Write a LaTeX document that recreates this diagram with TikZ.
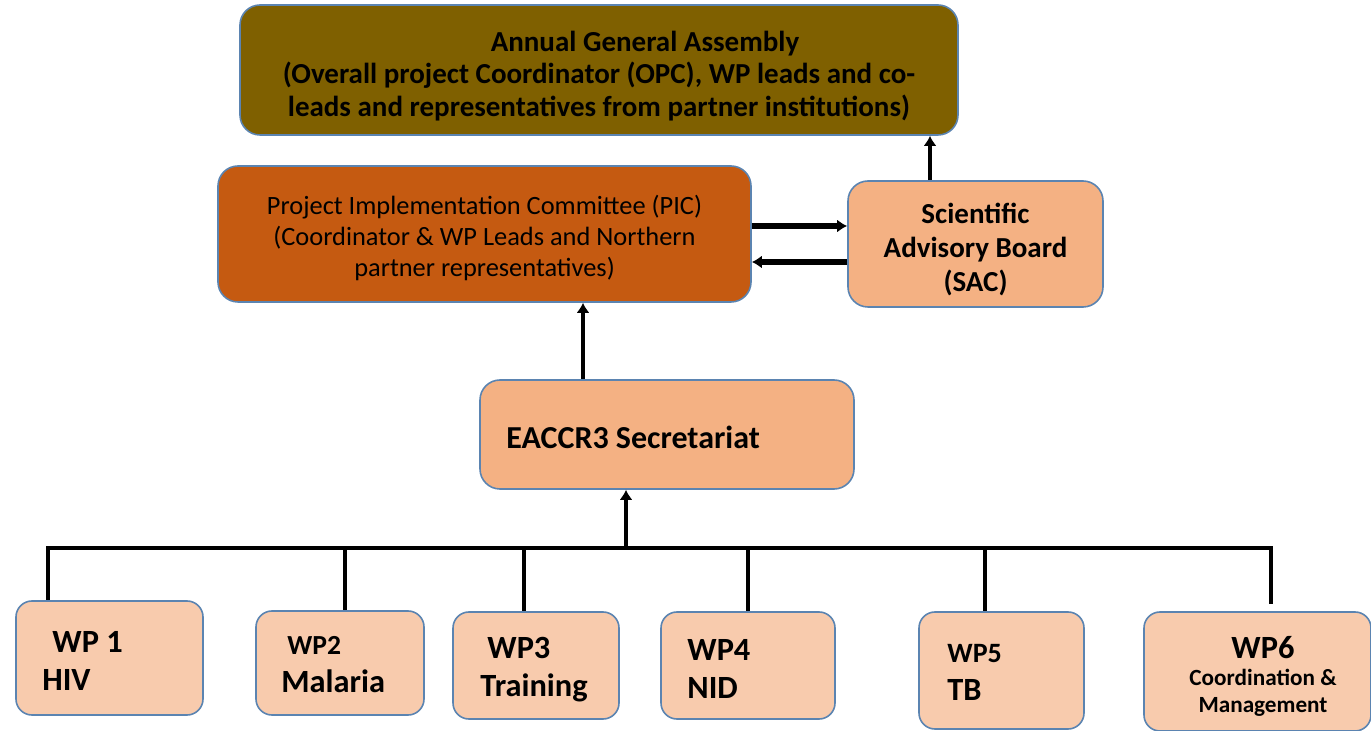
\documentclass[tikz,border=0pt]{standalone}
\usepackage{fontspec}
\setmainfont{Carlito}
\usetikzlibrary{arrows.meta,calc,positioning}

\definecolor{olivebox}{HTML}{7F6000}
\definecolor{rustbox}{HTML}{C55A11}
\definecolor{peachbox}{HTML}{F4B183}
\definecolor{lightpeach}{HTML}{F8CBAD}
\definecolor{edgeblue}{HTML}{5B84B1}

\tikzset{
  orgbox/.style={draw=edgeblue, line width=0.8pt, rounded corners=10pt, inner sep=0pt},
  wpbox/.style={orgbox, fill=lightpeach, rounded corners=8pt},
  wptext/.style={anchor=west, align=left, inner sep=0pt, font=\bfseries\fontsize{16.2}{19}\selectfont},
  arr/.style={line width=2.6pt, -{Latex[length=5pt,width=6.5pt]}},
  busline/.style={line width=1.8pt}
}

\begin{document}
\begin{tikzpicture}[x=0.5pt, y=-0.5pt]
    \useasboundingbox (0,0) rectangle (1371,731);

    % top level
    \node (aga) [orgbox, fill=olivebox, minimum width=359pt, minimum height=65pt] at (599,70) {};
    \node (agatxt) [align=center, inner sep=0pt, font=\bfseries\fontsize{14.5}{16.2}\selectfont] at (599,76)
        {\hspace*{46pt}Annual General Assembly\\(Overall project Coordinator (OPC), WP leads and co-\\leads and representatives from partner institutions)};

    \node (pic) [orgbox, fill=rustbox, minimum width=266.5pt, minimum height=68pt] at (484.5,234) {};
    \node (pictxt) [align=center, inner sep=0pt, font=\fontsize{13.2}{15.5}\selectfont] at (484.5,238)
        {Project Implementation Committee (PIC)\\(Coordinator \& WP Leads and Northern\\partner representatives)};

    \node (sac) [orgbox, fill=peachbox, minimum width=127.5pt, minimum height=63pt] at (975.5,244) {};
    \node (sactxt) [align=center, inner sep=0pt, font=\bfseries\fontsize{14.5}{17}\selectfont] at (975.5,249.5)
        {Scientific\\Advisory Board\\(SAC)};

    \node (sec) [orgbox, fill=peachbox, minimum width=187pt, minimum height=54.5pt] at (667,434.5) {};
    \node (sectxt) [anchor=west, inner sep=0pt, font=\bfseries\fontsize{16}{18}\selectfont] at (506,437) {EACCR3 Secretariat};

    % work packages
    \node (wp1) [wpbox, minimum width=93.5pt, minimum height=57pt] at (109.5,658) {};
    \node (wp2) [wpbox, minimum width=84pt, minimum height=52pt] at (340,663) {};
    \node (wp3) [wpbox, minimum width=83pt, minimum height=53.5pt] at (536,665.5) {};
    \node (wp4) [wpbox, minimum width=87pt, minimum height=53.5pt] at (748,665.5) {};
    \node (wp5) [wpbox, minimum width=82.5pt, minimum height=58.5pt] at (1001.5,670.5) {};
    \node (wp6) [wpbox, minimum width=113.5pt, minimum height=59.5pt] at (1257.5,671.5) {};

    \node (wp1txt) [wptext] at (42,661) {\hspace*{5pt}WP 1\\HIV};
    \node (wp2txt) [wptext] at (281,665) {\hspace*{3pt}{\fontsize{13.8}{12}\selectfont WP2}\\Malaria};
    \node (wp3txt) [wptext] at (480,670) {\hspace*{3.5pt}WP3\\Training};
    \node (wp4txt) [wptext] at (687,669) {WP4\\NID};
    \node (wp5txt) [wptext] at (947,672) {{\fontsize{14}{12}\selectfont WP5}\\TB};
    \node (wp6txt) [align=center, inner sep=0pt, font=\bfseries\fontsize{11.6}{13.5}\selectfont] at (1263,676)
        {{\fontsize{16.2}{16}\selectfont WP6}\\Coordination \&\\Management};

    % connectors
    \coordinate (sacup) at ([xshift=-22.75pt]sac.north);
    \draw [arr, line width=2.2pt] (sacup) -- (sacup |- aga.south);

    \coordinate (picout) at ([yshift=4pt]pic.east);
    \draw [arr] (picout) -- (picout -| sac.west);
    \coordinate (sacout) at ([yshift=-9pt]sac.west);
    \draw [arr] (sacout) -- (sacout -| pic.east);

    \coordinate (secup) at ([xshift=-42pt]sec.north);
    \draw [arr, line width=2pt] (secup) -- (secup |- pic.south);

    \coordinate (bus) at (626,548);
    \draw [arr, line width=2pt] (bus) -- (bus |- sec.south);

    \coordinate (d1) at ([xshift=-30.75pt]wp1.north);
    \coordinate (d2) at ([xshift=2.5pt]wp2.north);
    \coordinate (d3) at ([xshift=-6pt]wp3.north);
    \coordinate (d4) at (wp4.north);
    \coordinate (d5) at ([xshift=-8.25pt]wp5.north);
    \coordinate (d6) at ([xshift=6.75pt,yshift=3.5pt]wp6.north);

    \draw [busline] ([xshift=-0.9pt]d1 |- bus) -- ([xshift=0.9pt]d6 |- bus);
    \foreach \i in {1,...,6}
        \draw [busline] (d\i |- bus) -- (d\i);
\end{tikzpicture}
\end{document}
